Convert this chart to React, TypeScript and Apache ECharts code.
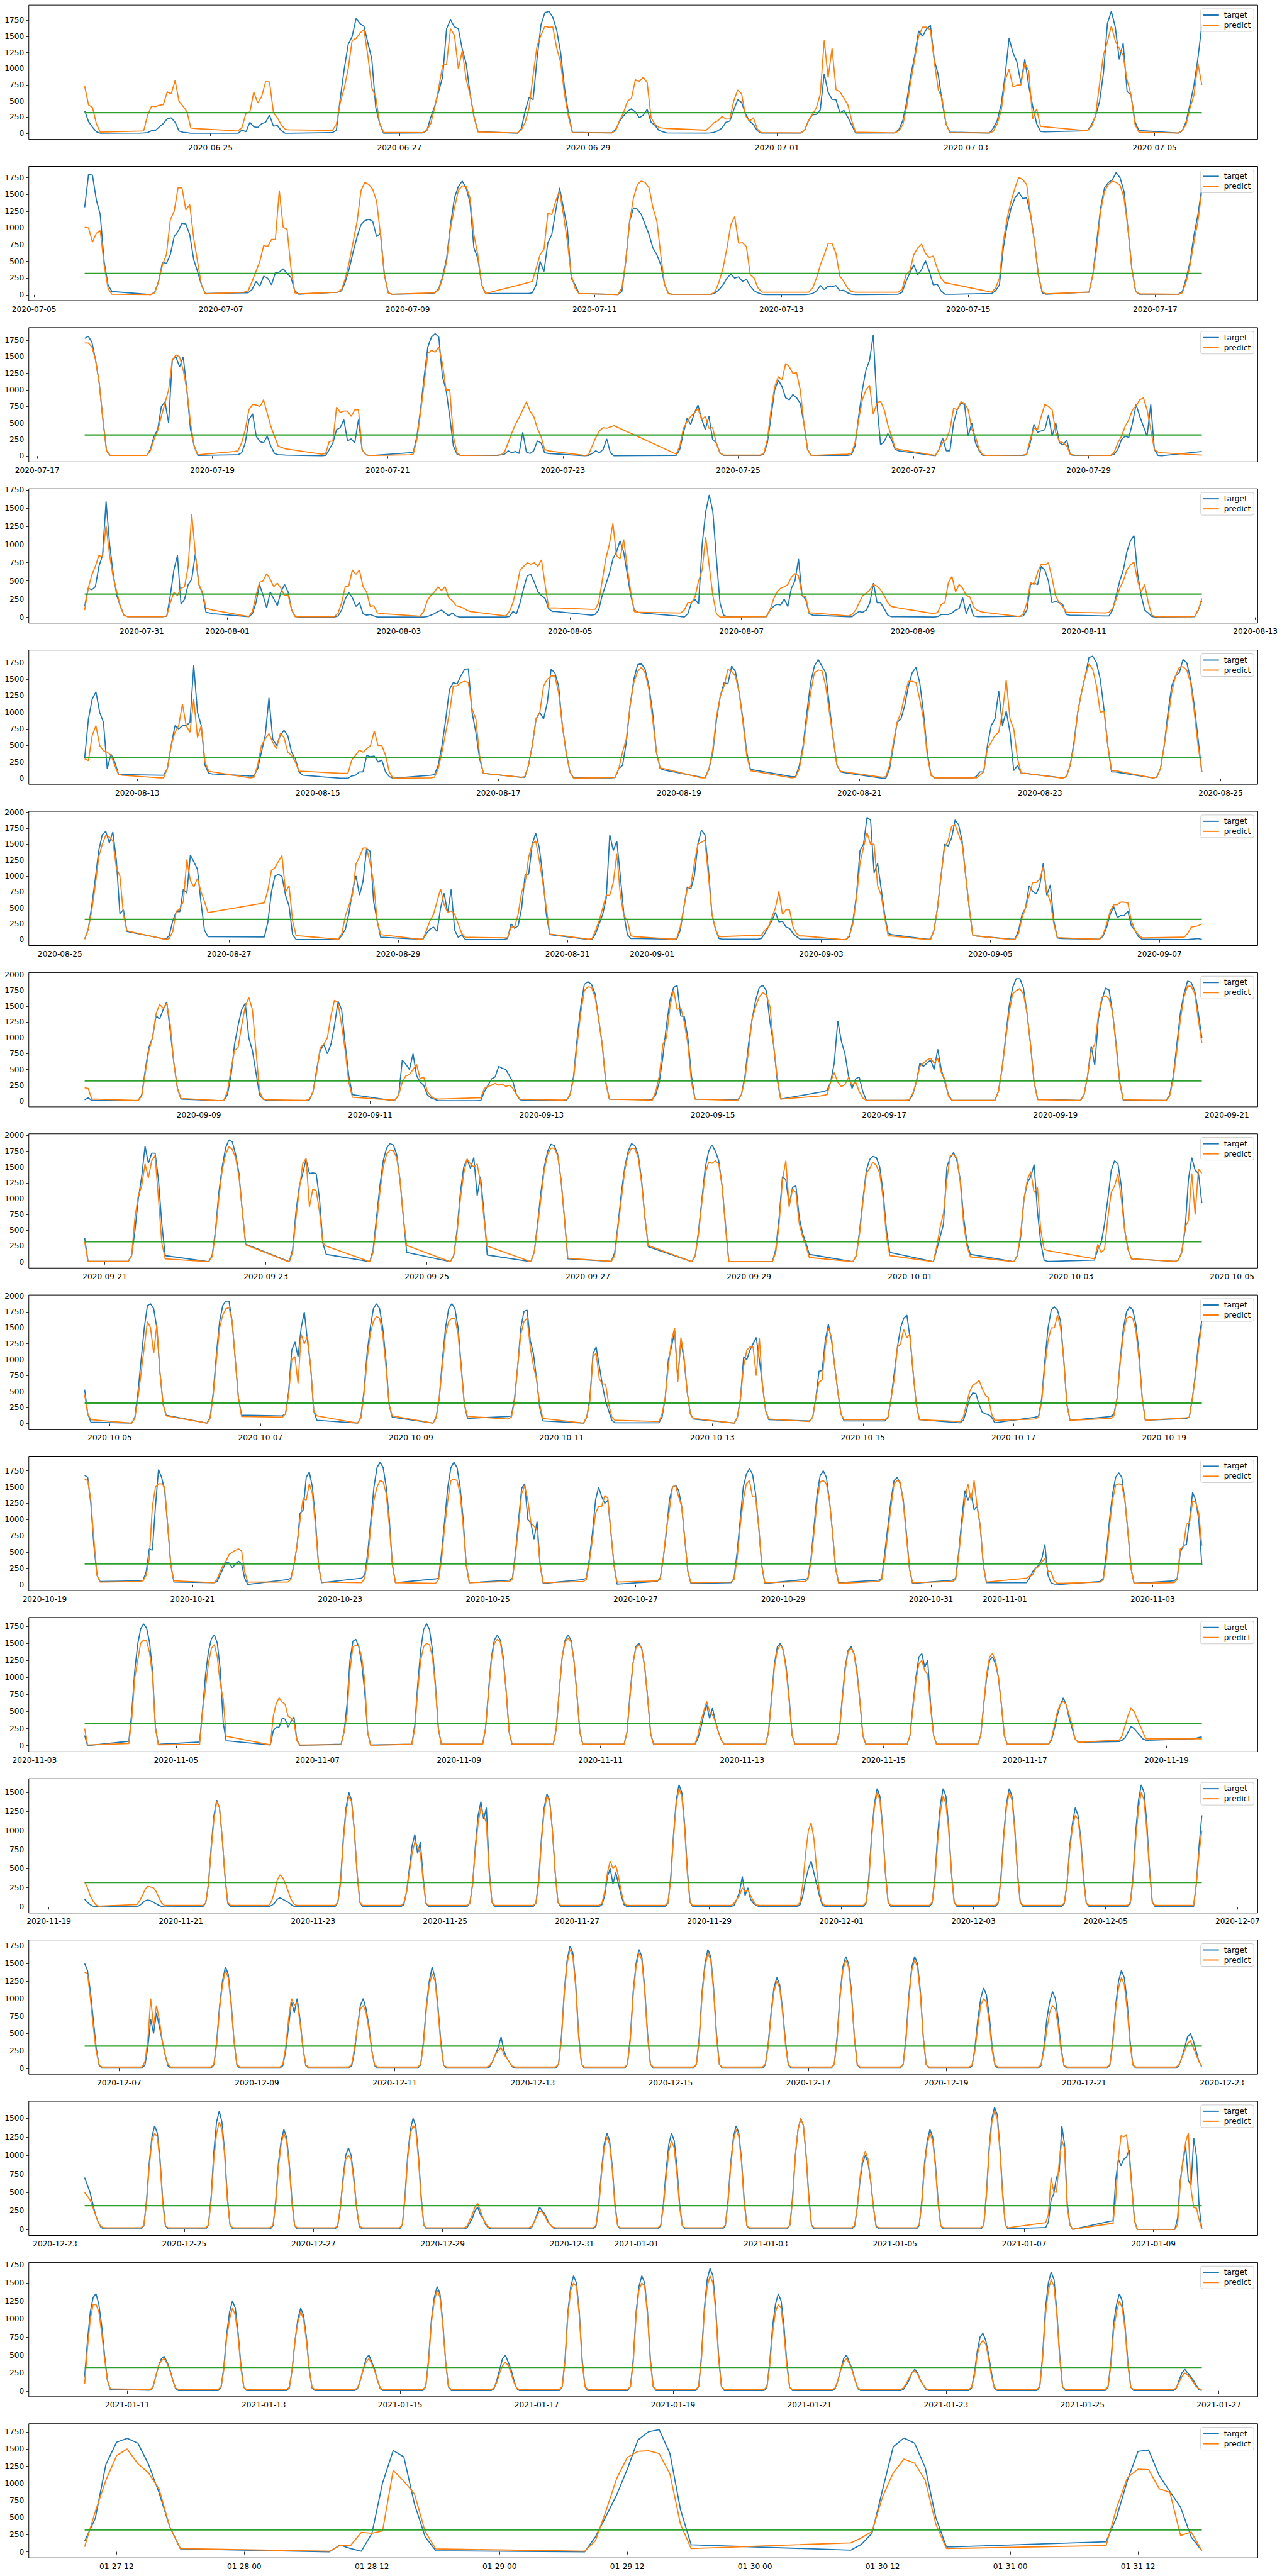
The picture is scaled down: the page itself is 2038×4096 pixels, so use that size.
import React, { useEffect, useRef } from "react";
import * as echarts from "echarts";

// ---------------- DATA ----------------
// Each day entry "YYYY-MM-DD H" gives the first hour; values follow hourly.
const THRESHOLD = 320;

const p1Days = ["2020-06-23 16","2020-06-24 6","2020-06-25 6","2020-06-26 6","2020-06-27 6","2020-06-28 6","2020-06-29 6","2020-06-30 6","2020-07-01 6","2020-07-02 6","2020-07-03 6","2020-07-04 6","2020-07-05 6"];
const p1Target = [
  [350,180,94,23,0],
  [3,5,10,40,45,100,150,225,240,170,35,15,10,0,0],
  [0,0,50,25,170,100,90,150,170,280,110,120,40,0,0],
  [10,10,50,550,1000,1380,1500,1780,1700,1660,1400,1150,400,150,0],
  [5,40,250,420,650,870,1620,1760,1650,1620,1300,1080,600,250,25],
  [0,70,350,560,520,1150,1680,1870,1890,1800,1600,1250,700,300,15],
  [5,60,190,270,340,380,330,240,280,370,170,122,45,23,5],
  [3,5,15,40,80,170,190,360,520,480,300,190,135,40,3],
  [3,45,194,285,293,364,919,635,526,520,313,356,250,128,3],
  [5,60,200,500,900,1200,1588,1503,1616,1673,1133,905,478,137,17],
  [3,80,200,450,900,1474,1246,1104,777,1147,734,421,150,28,23],
  [37,45,137,273,492,933,1702,1892,1645,1147,1397,649,592,179,43],
  [3,37,179,450,748,1161,1673],
];
const p1Predict = [
  [730,441,400,142,17],
  [35,37,279,421,413,435,444,643,612,817,492,421,336,80,74],
  [40,38,90,310,330,640,470,570,800,795,320,240,130,60,55],
  [45,45,140,480,700,1000,1440,1470,1550,1610,1200,710,560,150,15],
  [10,50,150,400,700,1050,1070,1620,1520,1000,1280,830,600,250,20],
  [5,50,170,400,900,1350,1520,1660,1640,1650,1320,1100,600,250,10],
  [5,40,200,320,500,540,830,800,870,785,236,142,88,80,75],
  [48,100,165,195,260,220,222,500,670,612,273,185,242,65,9],
  [5,45,194,293,393,606,1440,862,1318,677,643,544,444,194,17],
  [5,40,130,420,800,1150,1503,1645,1645,1602,1104,677,535,137,9],
  [5,30,150,350,820,990,714,748,748,1090,962,222,378,108,100],
  [45,45,108,279,763,1218,1417,1665,1431,1318,1204,820,598,137,17],
  [3,45,137,393,592,1090,748],
];
const p1Span = ["2020-06-23 16", "2020-07-05 12"];
const p1Ticks = ["2020-06-25","2020-06-27","2020-06-29","2020-07-01","2020-07-03","2020-07-05"];

const p2Days = ["2020-07-05 13","2020-07-06 6","2020-07-07 6","2020-07-08 6","2020-07-09 6","2020-07-10 6","2020-07-11 6","2020-07-12 6","2020-07-13 6","2020-07-14 6","2020-07-15 6","2020-07-16 6","2020-07-17 6"];
const p2Target = [
  [1310,1800,1790,1420,1200,500,150,50],
  [5,40,200,490,470,600,870,950,1070,1060,900,530,350,150,20],
  [30,30,80,200,130,280,250,150,330,340,390,320,260,60,10],
  [40,60,200,400,650,870,1050,1110,1130,1100,870,920,300,30,10],
  [20,30,100,280,550,1050,1450,1620,1700,1600,1380,700,550,150,20],
  [20,20,30,150,500,350,780,900,1250,1600,1300,1000,250,150,20],
  [5,50,500,1100,1300,1280,1200,1050,900,700,600,450,150,20,10],
  [10,30,80,150,250,310,250,270,200,230,130,60,30,10,5],
  [5,10,20,60,140,80,130,120,140,60,70,30,10,5,5],
  [10,40,200,330,450,300,380,510,350,150,160,60,10,10,10],
  [20,60,150,700,1050,1300,1450,1530,1440,1450,1200,800,300,30,10],
  [40,40,300,800,1300,1600,1680,1720,1830,1750,1550,1000,400,50,10],
  [10,50,250,500,900,1200,1600],
];
const p2Predict = [
  [1010,1000,790,920,960,450,100,10],
  [5,30,200,450,600,1120,1250,1600,1600,1270,1350,850,500,150,15],
  [40,60,200,350,500,740,720,830,830,1560,1010,980,400,30,15],
  [40,80,250,500,800,1100,1560,1680,1650,1580,1400,900,300,30,10],
  [30,30,80,250,500,1000,1300,1560,1630,1620,1450,900,600,150,20],
  [170,185,200,400,600,680,1220,1200,1400,1550,1200,800,300,100,20],
  [5,100,500,1100,1450,1650,1700,1680,1600,1300,1100,600,150,15,10],
  [10,50,200,400,700,1050,1170,770,780,720,300,250,100,40,40],
  [40,40,100,250,450,600,770,770,620,280,200,100,50,40,40],
  [40,80,300,360,600,700,760,620,560,580,400,250,180,170,160],
  [40,100,250,800,1150,1400,1600,1760,1720,1650,1200,800,300,50,15],
  [40,40,300,700,1250,1550,1650,1700,1680,1640,1450,1000,400,50,15],
  [10,30,200,450,800,1100,1550],
];
const p2Span = ["2020-07-05 13", "2020-07-17 12"];
const p2Ticks = ["2020-07-05","2020-07-07","2020-07-09","2020-07-11","2020-07-13","2020-07-15","2020-07-17"];

const p3Days = ["2020-07-17 13","2020-07-18 6","2020-07-19 6","2020-07-20 6","2020-07-21 6","2020-07-22 6","2020-07-23 6","2020-07-24 7","2020-07-25 6","2020-07-26 6","2020-07-27 6","2020-07-28 6","2020-07-29 6","2020-07-30 7"];
const p3Target = [
  [1780,1810,1720,1450,1100,550,80,10],
  [10,100,300,400,750,820,500,1450,1500,1350,1500,1000,400,150,10],
  [20,20,50,200,550,640,300,220,200,300,150,40,20,20,15],
  [5,10,100,200,400,430,550,230,260,200,550,100,20,10,10],
  [50,50,300,700,1200,1650,1800,1850,1800,1200,1000,600,150,30,10],
  [10,20,30,80,50,70,40,360,60,40,80,230,200,50,40],
  [5,10,40,80,50,100,260,50,5],
  [10,100,350,570,480,650,770,560,400,600,250,200,50,10],
  [10,30,200,600,1000,1150,1050,880,850,930,880,800,500,100,10],
  [10,20,150,600,1000,1300,1450,1830,800,170,220,340,250,100,80],
  [5,100,270,80,80,500,700,800,780,300,500,200,80,10,10],
  [10,20,200,480,360,380,400,620,300,500,200,170,240,20,10],
  [10,30,100,250,300,280,500,780,600,450,300,780,100,10,5],
  [70],
];
const p3Predict = [
  [1710,1710,1650,1450,1100,550,80,10],
  [10,80,250,380,600,800,1000,1450,1530,1500,1300,1000,500,150,20],
  [70,80,200,400,700,780,770,750,850,650,450,300,150,130,110],
  [30,40,220,230,740,660,680,680,600,700,700,100,20,10,10],
  [20,30,250,650,1100,1550,1600,1570,1650,1400,1000,1000,300,50,10],
  [15,20,60,200,350,480,580,700,820,680,600,420,300,100,80],
  [10,20,150,280,380,430,420,440,460],
  [30,150,420,520,600,650,720,550,600,420,430,200,50,15],
  [15,40,250,700,1050,1200,1150,1400,1350,1250,1260,1000,500,100,10],
  [30,40,200,550,850,1000,1070,630,800,830,700,470,300,120,100],
  [10,100,200,250,400,720,700,820,800,700,400,300,100,20,10],
  [15,30,250,420,400,600,780,750,700,350,220,200,150,30,15],
  [10,60,200,300,450,550,700,760,850,880,700,400,100,60,50],
  [15],
];
const p3Span = ["2020-07-17 13", "2020-07-30 7"];
const p3Ticks = ["2020-07-17","2020-07-19","2020-07-21","2020-07-23","2020-07-25","2020-07-27","2020-07-29"];

const p4Days = ["2020-07-30 8","2020-07-31 6","2020-08-01 6","2020-08-02 6","2020-08-03 6","2020-08-04 6","2020-08-05 6","2020-08-06 6","2020-08-07 6","2020-08-08 6","2020-08-09 6","2020-08-10 6","2020-08-11 6","2020-08-12 6"];
const p4Target = [
  [150,400,380,420,700,850,1590,1000,600,300,150,30,10],
  [10,15,300,650,850,180,250,450,520,870,450,330,70,60,50],
  [10,50,200,450,300,130,350,250,160,350,450,350,100,10,5],
  [5,20,100,250,340,270,150,200,50,30,40,20,5,5,5],
  [5,5,10,30,50,80,100,60,20,60,20,5,5,5,5],
  [5,10,80,50,200,400,570,590,480,350,300,260,120,80,80],
  [30,40,100,300,450,600,800,900,1050,900,600,300,100,70,60],
  [20,10,5,50,200,250,180,1000,1450,1680,1450,800,200,30,10],
  [10,10,100,150,180,170,250,150,400,500,800,300,250,50,30],
  [10,10,50,80,70,100,200,470,200,200,120,30,10,10,10],
  [5,10,40,40,40,60,100,120,270,50,180,20,10,10,10],
  [15,20,100,450,470,450,700,650,500,200,220,200,180,40,30],
  [20,20,100,300,500,650,900,1050,1120,600,300,100,60,10,5],
  [10,10,100,230],
];
const p4Predict = [
  [100,400,580,700,850,830,1260,850,550,350,150,30,10],
  [10,20,200,340,300,400,420,700,1420,880,450,350,130,110,100],
  [10,80,300,480,500,600,520,420,470,400,300,310,100,10,10],
  [10,60,200,420,430,650,590,650,420,350,150,160,60,55,50],
  [15,80,230,300,350,420,370,420,270,230,160,150,130,100,80],
  [20,80,200,400,650,700,750,730,750,700,790,450,130,130,130],
  [110,110,200,500,800,1000,1290,850,800,1070,700,350,80,70,70],
  [60,60,100,200,200,280,500,650,1100,700,300,50,5,5,5],
  [10,10,100,250,350,400,420,450,550,600,570,300,280,60,60],
  [20,40,100,200,300,330,380,450,430,380,300,200,150,140,130],
  [50,70,180,200,480,560,350,450,400,300,280,150,100,80,70],
  [10,50,200,480,450,620,730,720,750,550,300,200,150,70,70],
  [60,70,120,250,400,500,650,720,760,500,350,450,200,30,10],
  [10,15,100,260],
];
const p4Span = ["2020-07-30 8", "2020-08-12 9"];
const p4Ticks = ["2020-07-31","2020-08-01","2020-08-03","2020-08-05","2020-08-07","2020-08-09","2020-08-11","2020-08-13"];

const p5Days = ["2020-08-12 10","2020-08-13 6","2020-08-14 6","2020-08-15 6","2020-08-16 6","2020-08-17 6","2020-08-18 6","2020-08-19 6","2020-08-20 6","2020-08-21 6","2020-08-22 6","2020-08-23 6","2020-08-24 6"];
const p5Target = [
  [310,900,1200,1310,1000,850,150,370,250,70,60],
  [50,50,150,500,800,750,800,800,850,1710,1000,800,200,80,70],
  [40,40,150,400,650,1220,600,500,650,730,650,400,300,100,50],
  [5,5,5,40,50,100,100,350,330,340,250,280,100,30,5],
  [50,60,200,500,900,1350,1450,1430,1550,1650,1660,1000,700,300,80],
  [20,20,200,500,900,1000,900,1150,1650,1600,1400,800,400,100,10],
  [10,15,150,200,550,1100,1500,1720,1740,1650,1400,1000,400,150,130],
  [20,20,150,400,900,1250,1450,1430,1700,1620,1300,900,400,140,130],
  [30,30,200,500,1000,1450,1700,1800,1700,1600,1100,600,200,100,90],
  [5,5,150,500,850,900,1100,1400,1600,1680,1450,1000,400,50,10],
  [10,30,100,100,500,800,900,1320,800,1020,700,120,200,80,80],
  [10,30,200,550,1000,1300,1550,1830,1850,1750,1500,1050,500,100,100],
  [10,20,150,500,1000,1400,1550,1600,1800,1750,1500,1100,600,100],
];
const p5Predict = [
  [300,270,650,800,500,420,400,350,200,60,50],
  [10,10,160,500,700,800,1130,800,700,1200,620,800,250,110,100],
  [10,20,200,500,600,680,550,450,680,620,400,350,250,110,110],
  [80,80,80,280,350,430,400,450,500,720,500,500,350,100,5],
  [10,20,150,400,700,1000,1400,1400,1450,1470,1450,1050,900,350,80],
  [20,30,200,500,900,1000,1400,1500,1550,1550,1300,800,400,100,5],
  [15,15,150,400,600,1100,1450,1620,1680,1600,1350,900,400,160,150],
  [10,10,150,450,950,1250,1400,1650,1620,1550,1300,850,350,120,110],
  [10,20,150,450,900,1300,1600,1640,1630,1400,1000,600,200,110,100],
  [20,30,200,550,850,1000,1250,1470,1470,1450,1200,900,350,50,10],
  [10,10,50,100,450,550,650,700,1000,1490,900,750,300,80,80],
  [5,30,200,500,1000,1300,1550,1730,1650,1400,1000,1020,500,120,120],
  [10,20,150,500,900,1300,1550,1680,1690,1640,1450,1000,500,100],
];
const p5Span = ["2020-08-12 10", "2020-08-24 19"];
const p5Ticks = ["2020-08-13","2020-08-15","2020-08-17","2020-08-19","2020-08-21","2020-08-23","2020-08-25"];

const p6Days = ["2020-08-25 7","2020-08-26 6","2020-08-27 10","2020-08-28 7","2020-08-29 6","2020-08-30 6","2020-08-31 6","2020-09-01 6","2020-09-02 6","2020-09-03 6","2020-09-04 6","2020-09-05 6","2020-09-06 6","2020-09-07 6"];
const p6Target = [
  [10,160,530,950,1400,1650,1700,1520,1690,1250,410,470,130],
  [10,65,300,440,440,790,735,1330,1220,1110,590,150,50],
  [45,280,750,1000,1030,990,700,530,80,5],
  [5,70,170,420,770,1000,700,920,1430,1390,600,300,40],
  [10,10,100,170,200,130,500,730,420,790,150,40,80,5],
  [5,20,250,180,220,500,1030,1030,1500,1670,1450,1000,400,80],
  [5,10,100,250,400,650,1650,1400,1550,1000,400,80,20,20],
  [10,10,150,500,830,800,1000,1500,1720,1650,1100,400,170,20,10],
  [10,20,100,200,300,430,280,290,200,180,100,50,10,10],
  [5,5,50,300,700,1400,1500,1920,1880,1050,1200,800,400,100,80],
  [10,10,150,500,1000,1500,1470,1600,1880,1800,1550,1000,500,70,60],
  [10,10,150,400,500,850,760,720,850,1200,700,860,300,30,20],
  [10,10,60,200,400,520,350,380,380,450,220,150,50,10,10],
  [5,5,5,10,15,20,5],
];
const p6Predict = [
  [10,160,450,850,1300,1500,1640,1610,1550,1130,1000,400,140],
  [5,20,130,450,480,600,1260,930,830,960,760,600,427],
  [580,780,1090,1130,1230,1320,750,850,300,65],
  [10,100,380,540,700,1190,1300,1440,1440,1200,900,300,80],
  [10,10,150,300,400,600,800,550,430,450,400,250,100,40],
  [30,30,200,200,400,750,900,1300,1500,1550,1250,900,500,90],
  [10,20,150,300,500,700,700,900,1350,700,380,300,60,50],
  [10,20,200,500,800,850,1200,1500,1530,1560,1000,400,160,50,50],
  [70,70,150,200,350,500,760,400,470,470,200,100,60,60],
  [5,5,70,250,650,1200,1450,1680,1500,1500,850,700,350,60,60],
  [5,5,150,500,1000,1450,1550,1780,1800,1650,1500,1000,500,70,60],
  [5,10,100,350,500,700,900,900,950,1140,750,600,250,40,30],
  [10,10,80,250,450,550,550,590,590,580,300,150,80,30,30],
  [40,40,100,200,210,220,250],
];
const p6Span = ["2020-08-25 7", "2020-09-07 12"];
const p6Ticks = ["2020-08-25","2020-08-27","2020-08-29","2020-08-31","2020-09-01","2020-09-03","2020-09-05","2020-09-07"];

const p7Days = ["2020-09-07 16","2020-09-08 6","2020-09-09 6","2020-09-10 6","2020-09-11 6","2020-09-12 6","2020-09-13 6","2020-09-14 6","2020-09-15 6","2020-09-16 6","2020-09-17 6","2020-09-18 6","2020-09-19 6","2020-09-20 6"];
const p7Target = [
  [20,50,10,10],
  [5,10,100,500,850,1000,1350,1300,1450,1570,1100,600,200,30],
  [5,10,100,400,900,1200,1450,1550,1000,800,450,100,30,10],
  [5,20,150,500,800,900,750,900,1200,1580,1450,900,400,100],
  [10,20,100,650,580,500,750,400,300,250,100,50,30,5],
  [5,10,150,250,350,380,550,520,500,400,300,100,20,10],
  [5,10,100,400,1000,1500,1850,1890,1850,1700,1300,900,300,30],
  [20,20,100,300,700,1200,1600,1800,1830,1350,1340,1000,400,30],
  [20,20,100,400,900,1300,1600,1800,1830,1750,1250,900,350,30],
  [140,150,170,300,600,1270,950,750,400,200,350,380,150,10],
  [10,10,100,300,600,550,600,650,500,820,500,300,100,10],
  [10,10,150,500,1000,1500,1800,1940,1940,1800,1400,900,300,30],
  [10,10,100,400,870,570,1300,1600,1790,1760,1400,900,300,10],
  [10,10,100,400,900,1400,1700,1900,1880,1750,1400,1000],
];
const p7Predict = [
  [210,200,30,30],
  [10,10,80,450,800,1000,1380,1530,1470,1550,1200,600,200,40],
  [5,10,150,500,800,850,1200,1500,1640,1450,800,150,30,20],
  [10,30,150,450,850,900,1000,1350,1600,1550,1200,800,300,60],
  [15,20,100,300,400,420,500,580,350,380,150,80,40,30],
  [50,50,200,230,250,280,250,270,230,250,200,100,30,25],
  [15,20,100,350,900,1400,1750,1810,1800,1650,1300,900,300,30],
  [15,10,150,400,900,1000,1500,1760,1450,1480,1250,900,300,30],
  [10,15,100,350,800,1300,1500,1650,1720,1680,1500,900,400,30],
  [80,90,100,300,450,300,230,260,370,250,300,150,50,10],
  [10,20,120,300,550,600,650,680,600,680,450,350,80,10],
  [10,10,150,500,950,1400,1700,1750,1780,1700,1400,900,300,20],
  [10,10,100,400,800,900,1350,1640,1670,1620,1400,850,300,20],
  [10,10,80,350,800,1300,1650,1820,1820,1700,1300,920],
];
const p7Span = ["2020-09-07 16", "2020-09-20 17"];
const p7Ticks = ["2020-09-09","2020-09-11","2020-09-13","2020-09-15","2020-09-17","2020-09-19","2020-09-21"];

const p8Days = ["2020-09-20 18","2020-09-21 7","2020-09-22 7","2020-09-23 7","2020-09-24 7","2020-09-25 7","2020-09-26 7","2020-09-27 7","2020-09-28 7","2020-09-29 7","2020-09-30 7","2020-10-01 7","2020-10-02 7","2020-10-03 7","2020-10-04 7"];
const p8Target = [
  [380,10],
  [10,100,500,1000,1350,1830,1560,1720,1720,1300,600,100],
  [5,100,500,1100,1500,1800,1930,1900,1700,1400,800,280],
  [5,200,800,1200,1400,1620,1400,1410,1400,1000,300,120],
  [5,200,700,1200,1600,1800,1870,1850,1700,1300,700,150],
  [5,100,500,1100,1500,1620,1480,1650,1050,1350,800,110],
  [5,150,600,1100,1500,1750,1860,1840,1700,1300,700,50],
  [10,150,600,1100,1500,1750,1870,1840,1700,1300,700,240],
  [5,100,500,1000,1500,1750,1850,1750,1600,1200,600,10],
  [5,200,700,1350,1300,900,1180,1200,700,450,300,120],
  [5,100,500,1000,1450,1620,1670,1650,1500,1100,500,150],
  [5,200,400,600,1500,1650,1730,1600,1300,700,300,120],
  [5,100,400,1000,1250,1350,1540,800,300,30,10,10],
  [30,200,300,600,1000,1450,1600,1550,1200,500,200,50],
  [10,30,150,500,1300,1650,1450,1400,930],
];
const p8Predict = [
  [320,10],
  [10,100,700,1050,1200,1550,1330,1600,1680,1000,300,50],
  [5,80,450,1000,1450,1700,1820,1780,1650,1350,800,270],
  [0,150,700,1150,1550,1640,870,1150,1130,800,300,250],
  [5,150,600,1100,1500,1700,1770,1760,1650,1300,700,260],
  [5,100,450,1000,1400,1630,1550,1500,1550,1250,700,250],
  [5,150,550,1000,1450,1700,1800,1800,1680,1300,700,60],
  [10,100,550,1000,1450,1700,1800,1790,1650,1250,700,260],
  [5,100,450,950,1400,1580,1560,1600,1550,1200,550,10],
  [5,150,600,1300,1600,870,1150,1100,600,400,250,70],
  [5,100,450,950,1400,1480,1580,1520,1400,1000,400,100],
  [5,250,550,770,1300,1680,1700,1650,1250,600,250,80],
  [5,100,450,1000,1300,1430,1100,1180,500,200,180,170],
  [50,280,150,200,700,1100,1200,1390,1000,500,200,50],
  [10,30,150,550,650,1400,750,1470,1400],
];
const p8Span = ["2020-09-20 18", "2020-10-04 15"];
const p8Ticks = ["2020-09-21","2020-09-23","2020-09-25","2020-09-27","2020-09-29","2020-10-01","2020-10-03","2020-10-05"];

const p9Days = ["2020-10-04 16","2020-10-05 7","2020-10-06 7","2020-10-07 7","2020-10-08 7","2020-10-09 7","2020-10-10 7","2020-10-11 7","2020-10-12 7","2020-10-13 7","2020-10-14 7","2020-10-15 7","2020-10-16 7","2020-10-17 7","2020-10-18 7","2020-10-19 7"];
const p9Target = [
  [530,150,20],
  [5,100,500,1000,1500,1850,1880,1800,1500,800,300,130],
  [5,100,500,1100,1600,1850,1920,1920,1600,1000,400,130],
  [120,150,500,1150,1280,1050,1500,1750,1300,900,200,50],
  [5,100,500,1100,1500,1800,1880,1800,1500,1000,300,100],
  [5,100,400,1000,1500,1800,1880,1800,1500,900,300,80],
  [110,120,400,900,1500,1760,1780,1300,1100,700,250,40],
  [5,100,400,1100,1200,900,600,350,200,50,10,10],
  [10,100,400,1000,1200,1450,700,1300,1000,500,150,70],
  [5,100,400,1050,1000,1150,1250,1350,1000,600,200,60],
  [40,100,400,820,830,1300,1560,1300,900,500,150,40],
  [40,100,400,800,1200,1500,1650,1700,1350,800,300,60],
  [10,50,200,400,480,470,300,180,150,140,100,10],
  [100,120,400,1000,1500,1780,1830,1780,1600,1000,300,50],
  [110,150,400,1000,1500,1750,1830,1780,1550,1100,400,50],
  [80,100,400,800,1300,1620],
];
const p9Predict = [
  [450,150,60],
  [5,80,400,800,1200,1600,1500,1100,1550,800,300,120],
  [5,80,450,1000,1500,1700,1800,1820,1600,1000,400,110],
  [100,150,450,1000,1050,630,1400,1250,1370,900,200,120],
  [5,80,450,1000,1400,1600,1680,1650,1400,900,300,120],
  [5,80,400,900,1400,1600,1650,1650,1400,850,300,110],
  [70,100,350,900,1400,1600,1650,1200,900,700,300,80],
  [5,100,350,1050,1100,700,620,620,300,100,50,50],
  [30,150,400,900,1300,1500,650,1350,1050,500,150,80],
  [5,100,400,900,1150,1200,1200,750,1340,600,200,70],
  [30,100,400,650,680,1200,1500,1350,900,500,150,60],
  [60,100,400,700,1200,1250,1480,1350,1400,800,300,60],
  [30,100,300,500,600,630,680,550,450,400,150,50],
  [70,100,350,900,1300,1500,1500,1700,1500,1000,300,50],
  [80,120,400,950,1400,1650,1680,1650,1450,1000,400,50],
  [90,100,400,750,1200,1550],
];
const p9Span = ["2020-10-04 16", "2020-10-19 12"];
const p9Ticks = ["2020-10-05","2020-10-07","2020-10-09","2020-10-11","2020-10-13","2020-10-15","2020-10-17","2020-10-19"];

const p10Days = ["2020-10-19 13","2020-10-20 7","2020-10-21 7","2020-10-22 7","2020-10-23 7","2020-10-24 7","2020-10-25 7","2020-10-26 7","2020-10-27 7","2020-10-28 7","2020-10-29 7","2020-10-30 7","2020-10-31 7","2020-11-01 7","2020-11-02 7","2020-11-03 7"];
const p10Target = [
  [1680,1650,1250,600,150,50],
  [60,70,200,550,530,1200,1770,1650,1450,900,300,40],
  [30,50,150,250,350,330,260,320,360,320,100,5],
  [80,100,300,600,1100,1150,1650,1730,1500,1000,300,30],
  [100,150,500,1000,1500,1800,1880,1800,1500,1000,300,30],
  [90,100,500,1000,1500,1800,1880,1800,1500,1000,300,30],
  [70,100,500,1000,1480,1550,1000,950,700,970,300,20],
  [80,100,400,800,1300,1500,1350,1250,1300,800,300,10],
  [50,100,400,800,1300,1500,1530,1450,1200,700,200,20],
  [30,100,500,1000,1500,1700,1780,1700,1400,900,300,20],
  [80,100,400,900,1400,1680,1750,1650,1300,800,250,30],
  [70,100,500,900,1300,1600,1650,1550,1300,800,250,20],
  [70,100,500,1000,1450,1300,1400,1150,1200,900,300,30],
  [30,100,200,250,300,400,620,150,30,10,10,5],
  [50,100,500,1000,1400,1650,1720,1650,1300,800,250,20],
  [60,100,500,600,620,1000,1420,1300,1000,300],
];
const p10Predict = [
  [1620,1600,1300,700,150,40],
  [50,60,150,400,1200,1500,1550,1550,1500,900,300,60],
  [30,80,200,300,370,470,500,530,550,520,200,40],
  [40,80,300,600,1000,1330,1300,1550,1400,900,300,40],
  [30,100,400,900,1300,1500,1600,1580,1400,900,300,30],
  [20,80,400,900,1300,1600,1620,1600,1400,900,300,30],
  [50,80,450,900,1400,1520,1300,950,900,850,300,30],
  [50,80,350,700,1100,1200,1200,1370,1330,800,300,40],
  [60,80,400,850,1150,1500,1520,1350,1200,700,200,30],
  [40,80,400,900,1300,1550,1600,1350,1350,900,300,30],
  [50,80,350,800,1300,1580,1600,1550,1300,800,250,20],
  [50,80,400,800,1200,1550,1600,1580,1250,750,250,30],
  [50,80,450,900,1300,1550,1300,1600,1200,900,300,40],
  [100,130,150,250,280,350,400,210,200,60,20,20],
  [40,80,400,900,1300,1530,1550,1530,1300,800,250,20],
  [30,80,550,580,930,950,1280,1270,1100,600],
];
const p10Span = ["2020-10-19 13", "2020-11-03 16"];
const p10Ticks = ["2020-10-19","2020-10-21","2020-10-23","2020-10-25","2020-10-27","2020-10-29","2020-10-31","2020-11-01","2020-11-03"];

const p11Days = ["2020-11-03 17","2020-11-04 8","2020-11-05 8","2020-11-06 8","2020-11-07 8","2020-11-08 8","2020-11-09 8","2020-11-10 8","2020-11-11 8","2020-11-12 8","2020-11-13 8","2020-11-14 8","2020-11-15 8","2020-11-16 8","2020-11-17 8","2020-11-18 8","2020-11-19 8"];
const p11Target = [
  [150,0],
  [64,500,1100,1490,1712,1785,1726,1517,1116,273,19],
  [53,527,1035,1383,1565,1624,1504,1116,340,72],
  [10,219,268,273,399,388,273,353,420,86,5],
  [20,200,600,1250,1530,1560,1450,1200,800,200,10],
  [20,300,900,1400,1700,1790,1700,1400,900,250,20],
  [20,250,800,1300,1550,1620,1550,1300,800,200,20],
  [20,250,800,1300,1550,1620,1550,1250,750,200,20],
  [20,200,750,1200,1450,1500,1420,1150,700,180,20],
  [20,100,250,450,600,400,550,350,200,80,20],
  [20,200,700,1200,1450,1500,1400,1150,700,150,20],
  [20,200,700,1150,1400,1450,1350,1100,650,150,20],
  [20,150,600,1000,1300,1350,1150,1250,600,150,20],
  [20,150,600,1000,1250,1300,1200,1000,600,150,20],
  [20,80,250,450,600,700,600,400,250,100,50],
  [60,80,120,200,280,250,200,150,100,80,80],
  [100,100,110,120,130],
];
const p11Predict = [
  [250,10],
  [30,400,1000,1250,1504,1549,1536,1370,1035,260,13],
  [19,500,850,1210,1424,1482,1303,902,688,139],
  [13,433,620,701,640,607,433,406,350,72,10],
  [15,200,450,1100,1450,1470,1460,1300,950,200,5],
  [20,250,800,1250,1450,1500,1480,1300,850,250,20],
  [20,250,750,1250,1500,1560,1520,1250,800,200,20],
  [20,250,800,1300,1520,1580,1520,1250,750,200,20],
  [20,200,700,1200,1430,1480,1420,1150,700,180,20],
  [20,150,350,500,650,500,450,350,200,80,20],
  [20,200,650,1150,1400,1480,1400,1100,650,150,20],
  [20,200,650,1100,1380,1430,1350,1050,650,150,20],
  [20,150,550,950,1200,1250,1100,1050,550,150,20],
  [20,150,600,1050,1300,1350,1250,1000,600,150,20],
  [20,100,300,500,600,650,600,450,300,100,50],
  [80,150,300,450,550,500,400,300,200,100,100],
  [100,100,100,100,100],
];
const p11Span = ["2020-11-03 17", "2020-11-19 12"];
const p11Ticks = ["2020-11-03","2020-11-05","2020-11-07","2020-11-09","2020-11-11","2020-11-13","2020-11-15","2020-11-17","2020-11-19"];

const p12Days = ["2020-11-19 13","2020-11-20 8","2020-11-21 8","2020-11-22 8","2020-11-23 8","2020-11-24 8","2020-11-25 8","2020-11-26 8","2020-11-27 8","2020-11-28 8","2020-11-29 8","2020-11-30 8","2020-12-01 8","2020-12-02 8","2020-12-03 8","2020-12-04 8","2020-12-05 8","2020-12-06 8"];
const p12Target = [
  [100,60,30,10,5,0],
  [5,20,50,80,90,80,60,40,20,5,0],
  [5,50,300,800,1200,1400,1300,900,400,50,5],
  [5,20,50,100,120,100,80,60,30,10,5],
  [5,50,350,900,1300,1500,1400,1000,450,60,5],
  [5,30,200,500,800,950,700,850,400,50,5],
  [5,50,300,800,1200,1380,1150,1300,500,60,5],
  [5,50,350,900,1300,1480,1400,1000,450,60,5],
  [5,30,150,400,500,300,450,300,150,30,5],
  [5,50,400,950,1400,1600,1500,1100,500,60,5],
  [5,20,100,200,400,150,250,100,50,20,5],
  [5,30,150,350,500,600,450,300,150,30,5],
  [5,50,400,950,1350,1550,1450,1050,450,60,5],
  [5,50,400,950,1350,1550,1450,1050,450,60,5],
  [5,50,400,950,1350,1550,1450,1050,450,60,5],
  [5,40,300,800,1100,1300,1200,900,400,50,5],
  [5,50,400,1000,1400,1600,1500,1100,500,60,5],
  [5,300,800,1200],
];
const p12Predict = [
  [330,250,150,80,30,10],
  [30,80,150,230,270,260,250,200,120,50,20],
  [20,50,300,750,1150,1380,1300,900,400,60,20],
  [20,80,200,350,420,380,300,200,100,40,20],
  [20,60,300,850,1250,1450,1380,1000,450,60,20],
  [20,50,200,450,700,850,800,700,350,50,20],
  [20,50,300,750,1100,1300,1200,1100,450,60,20],
  [20,50,300,850,1250,1450,1380,1000,450,60,20],
  [20,50,200,450,600,500,550,400,200,50,20],
  [20,60,350,900,1350,1550,1450,1050,450,60,20],
  [20,50,100,150,250,200,220,150,80,30,20],
  [20,60,300,700,1000,1100,900,500,200,50,20],
  [20,60,350,900,1300,1500,1400,1000,450,60,20],
  [20,60,350,850,1250,1450,1350,1000,450,60,20],
  [20,60,350,900,1300,1500,1400,1000,450,60,20],
  [20,50,300,750,1050,1200,1150,850,350,50,20],
  [20,60,350,900,1300,1500,1400,1000,450,60,20],
  [20,300,700,1000],
];
const p12Span = ["2020-11-19 13", "2020-12-06 11"];
const p12Ticks = ["2020-11-19","2020-11-21","2020-11-23","2020-11-25","2020-11-27","2020-11-29","2020-12-01","2020-12-03","2020-12-05","2020-12-07"];

const p13Days = ["2020-12-06 12","2020-12-07 8","2020-12-08 8","2020-12-09 8","2020-12-10 8","2020-12-11 8","2020-12-12 8","2020-12-13 8","2020-12-14 8","2020-12-15 8","2020-12-16 8","2020-12-17 8","2020-12-18 8","2020-12-19 8","2020-12-20 8","2020-12-21 8","2020-12-22 8"];
const p13Target = [
  [1500,1400,1100,700,300,50,5],
  [5,50,300,700,500,800,600,400,200,40,5],
  [5,50,400,900,1250,1450,1350,950,400,50,5],
  [5,40,250,600,950,800,1000,700,300,40,5],
  [5,40,250,600,900,1000,850,600,250,40,5],
  [5,50,400,900,1250,1450,1300,900,400,50,5],
  [5,20,100,200,300,450,250,150,80,20,5],
  [5,60,450,1100,1550,1750,1650,1200,500,60,5],
  [5,60,450,1100,1500,1700,1600,1150,500,60,5],
  [5,60,450,1100,1500,1700,1600,1150,500,60,5],
  [5,50,350,800,1150,1300,1200,850,400,50,5],
  [5,60,450,1050,1450,1600,1500,1100,450,60,5],
  [5,60,450,1050,1450,1600,1500,1100,450,60,5],
  [5,40,300,700,1000,1150,1050,750,300,40,5],
  [5,40,300,700,950,1100,1000,700,300,40,5],
  [5,50,400,900,1250,1400,1300,950,400,50,5],
  [5,40,150,300,450,500,400,250,100,20],
];
const p13Predict = [
  [1380,1350,1000,600,250,60,20],
  [20,100,400,1000,600,900,700,400,200,60,20],
  [20,60,350,850,1200,1400,1300,900,400,60,20],
  [20,60,300,700,1000,900,950,650,300,50,20],
  [20,60,300,600,850,900,800,550,250,50,20],
  [20,60,350,850,1200,1350,1250,850,350,50,20],
  [20,40,100,200,250,300,200,150,80,30,20],
  [20,60,400,1050,1500,1700,1600,1150,450,60,20],
  [20,60,400,1050,1450,1650,1550,1100,450,60,20],
  [20,60,400,1050,1450,1650,1550,1100,450,60,20],
  [20,60,300,750,1100,1250,1150,800,350,50,20],
  [20,60,400,1000,1400,1550,1450,1050,450,60,20],
  [20,60,400,1000,1400,1550,1450,1050,450,60,20],
  [20,50,250,600,900,1000,950,650,250,50,20],
  [20,50,250,550,800,900,850,600,250,50,20],
  [20,60,350,850,1150,1300,1200,850,350,50,20],
  [20,50,150,250,350,400,300,200,100,30],
];
const p13Span = ["2020-12-06 12", "2020-12-22 17"];
const p13Ticks = ["2020-12-07","2020-12-09","2020-12-11","2020-12-13","2020-12-15","2020-12-17","2020-12-19","2020-12-21","2020-12-23"];

const p14Days = ["2020-12-23 11","2020-12-24 8","2020-12-25 8","2020-12-26 8","2020-12-27 8","2020-12-28 8","2020-12-29 8","2020-12-30 8","2020-12-31 8","2021-01-01 8","2021-01-02 8","2021-01-03 8","2021-01-04 8","2021-01-05 8","2021-01-06 8","2021-01-07 8","2021-01-08 8","2021-01-09 8"];
const p14Target = [
  [700,600,500,350,200,100,30,5],
  [5,50,400,900,1250,1400,1300,950,400,50,5],
  [5,60,450,1050,1450,1600,1450,1050,450,60,5],
  [5,50,400,900,1200,1350,1250,900,400,50,5],
  [5,40,300,700,1000,1100,1000,700,300,40,5],
  [5,60,450,1000,1350,1500,1400,1000,450,60,5],
  [5,20,80,150,250,300,200,150,60,20,5],
  [5,20,100,200,300,250,200,120,60,20,5],
  [5,50,350,800,1150,1300,1200,850,350,50,5],
  [5,50,350,800,1150,1300,1200,850,350,50,5],
  [5,50,400,900,1250,1400,1300,950,400,50,5],
  [5,60,450,1000,1350,1500,1400,1000,450,60,5],
  [5,40,300,650,900,1000,900,650,300,40,5],
  [5,50,400,900,1200,1350,1250,900,400,50,5],
  [5,60,500,1100,1500,1650,1550,1100,500,60,5],
  [25,100,400,480,700,780,1400,1150,350,60,0],
  [110,115,667,949,859,949,974,1077,564,115,0],
  [0,154,667,923,1115,654,603,1231,987,308,0],
];
const p14Predict = [
  [500,450,400,300,200,100,40,20],
  [20,60,350,850,1200,1300,1250,900,350,50,20],
  [20,60,400,950,1300,1450,1350,1000,400,60,20],
  [20,60,350,850,1150,1300,1200,850,350,50,20],
  [20,50,300,650,950,1000,950,650,300,50,20],
  [20,60,400,950,1300,1400,1350,950,400,60,20],
  [20,40,120,200,300,350,250,150,80,30,20],
  [20,40,100,180,250,230,180,100,60,30,20],
  [20,60,300,750,1100,1250,1150,800,300,50,20],
  [20,60,300,700,1050,1200,1100,750,300,50,20],
  [20,60,350,850,1200,1350,1250,900,350,50,20],
  [20,60,400,1000,1350,1500,1400,1000,400,60,20],
  [20,50,300,700,950,1050,950,650,300,50,20],
  [20,60,350,850,1150,1300,1200,850,350,50,20],
  [20,60,450,1050,1450,1600,1500,1050,450,60,20],
  [90,200,700,510,500,900,1200,1100,300,60,0],
  [77,77,410,949,1269,1251,1282,974,564,103,0],
  [0,64,615,949,1179,1303,538,295,287,128,0],
];
const p14Span = ["2020-12-23 11", "2021-01-09 18"];
const p14Ticks = ["2020-12-23","2020-12-25","2020-12-27","2020-12-29","2020-12-31","2021-01-01","2021-01-03","2021-01-05","2021-01-07","2021-01-09"];

const p15Days = ["2021-01-10 9","2021-01-11 8","2021-01-12 8","2021-01-13 8","2021-01-14 8","2021-01-15 8","2021-01-16 8","2021-01-17 8","2021-01-18 8","2021-01-19 8","2021-01-20 8","2021-01-21 8","2021-01-22 8","2021-01-23 8","2021-01-24 8","2021-01-25 8","2021-01-26 8"];
const p15Target = [
  [200,700,1100,1300,1350,1200,900,500,150,20],
  [10,50,200,350,450,480,400,300,150,30,5],
  [5,50,350,800,1100,1250,1150,800,350,50,5],
  [5,40,300,700,1000,1150,1050,750,300,40,5],
  [5,30,150,300,450,500,400,300,150,30,5],
  [5,60,450,1000,1300,1450,1350,950,400,50,5],
  [5,30,150,300,450,500,400,300,150,30,5],
  [5,60,450,1100,1450,1600,1500,1100,450,60,5],
  [5,60,450,1100,1450,1600,1500,1100,450,60,5],
  [5,60,500,1150,1550,1700,1600,1150,500,60,5],
  [5,50,400,900,1200,1350,1250,900,400,50,5],
  [5,30,150,300,450,500,400,300,150,30,5],
  [5,20,80,150,250,300,250,150,80,20,5],
  [5,40,250,550,750,800,700,500,250,40,5],
  [5,60,500,1150,1500,1650,1550,1100,500,60,5],
  [5,50,400,950,1200,1350,1250,900,400,50,5],
  [5,30,150,250,300,250,200,150,80,20,5],
];
const p15Predict = [
  [100,600,1000,1200,1200,1100,800,450,150,30],
  [20,50,200,350,420,450,380,280,150,40,20],
  [20,60,300,750,1000,1150,1050,750,300,50,20],
  [20,50,300,700,950,1100,1000,700,300,50,20],
  [20,40,150,300,400,450,380,280,150,40,20],
  [20,60,400,950,1250,1400,1300,900,400,60,20],
  [20,40,120,250,350,400,350,250,120,40,20],
  [20,60,400,1050,1400,1500,1450,1050,400,60,20],
  [20,60,400,1050,1400,1500,1450,1050,400,60,20],
  [20,60,450,1100,1450,1600,1500,1100,450,60,20],
  [20,60,350,800,1100,1200,1150,800,350,50,20],
  [20,40,150,300,400,450,380,280,150,40,20],
  [20,40,100,180,250,280,230,150,80,30,20],
  [20,50,200,500,650,700,650,450,200,50,20],
  [20,60,450,1050,1400,1550,1450,1050,450,60,20],
  [20,60,350,850,1100,1250,1150,850,350,50,20],
  [20,40,120,200,250,220,180,120,60,30,20],
];
const p15Span = ["2021-01-10 9", "2021-01-26 18"];
const p15Ticks = ["2021-01-11","2021-01-13","2021-01-15","2021-01-17","2021-01-19","2021-01-21","2021-01-23","2021-01-25","2021-01-27"];

const p16Days = ["2021-01-27 9","2021-01-28 8","2021-01-29 8","2021-01-30 9","2021-01-31 9"];
const p16Target = [
  [155,490,1281,1603,1659,1589,1281,860,365,43],
  [0,99,48,8,271,1008,1482,1388,700,222,16],
  [0,217,520,833,1209,1635,1756,1785,1442,619,102],
  [24,110,271,914,1536,1664,1589,1233,499,70],
  [147,512,1040,1469,1488,1115,882,654,217,16],
];
const p16Predict = [
  [75,590,1048,1407,1503,1289,1155,919,365,48],
  [8,94,94,284,271,306,1193,1035,847,298,43],
  [8,160,600,1070,1380,1469,1477,1437,1142,405,48],
  [131,204,298,808,1155,1356,1297,1048,405,48],
  [91,646,1083,1209,1201,922,868,239,290,16],
];
const p16Span = ["2021-01-27 9", "2021-01-31 18"];
const p16Ticks = ["2021-01-27 12","2021-01-28 0","2021-01-28 12","2021-01-29 0","2021-01-29 12","2021-01-30 0","2021-01-30 12","2021-01-31 0","2021-01-31 12"];
const p16TickLabels = ["01-27 12","01-28 00","01-28 12","01-29 00","01-29 12","01-30 00","01-30 12","01-31 00","01-31 12"];

// ---------------- BUILD ----------------
type Panel = { days: string[]; target: number[][]; predict: number[][]; span: string[]; ticks: string[]; labels?: string[] };
const panels: Panel[] = [
  { days: p1Days, target: p1Target, predict: p1Predict, span: p1Span, ticks: p1Ticks },
  { days: p2Days, target: p2Target, predict: p2Predict, span: p2Span, ticks: p2Ticks },
  { days: p3Days, target: p3Target, predict: p3Predict, span: p3Span, ticks: p3Ticks },
  { days: p4Days, target: p4Target, predict: p4Predict, span: p4Span, ticks: p4Ticks },
  { days: p5Days, target: p5Target, predict: p5Predict, span: p5Span, ticks: p5Ticks },
  { days: p6Days, target: p6Target, predict: p6Predict, span: p6Span, ticks: p6Ticks },
  { days: p7Days, target: p7Target, predict: p7Predict, span: p7Span, ticks: p7Ticks },
  { days: p8Days, target: p8Target, predict: p8Predict, span: p8Span, ticks: p8Ticks },
  { days: p9Days, target: p9Target, predict: p9Predict, span: p9Span, ticks: p9Ticks },
  { days: p10Days, target: p10Target, predict: p10Predict, span: p10Span, ticks: p10Ticks },
  { days: p11Days, target: p11Target, predict: p11Predict, span: p11Span, ticks: p11Ticks },
  { days: p12Days, target: p12Target, predict: p12Predict, span: p12Span, ticks: p12Ticks },
  { days: p13Days, target: p13Target, predict: p13Predict, span: p13Span, ticks: p13Ticks },
  { days: p14Days, target: p14Target, predict: p14Predict, span: p14Span, ticks: p14Ticks },
  { days: p15Days, target: p15Target, predict: p15Predict, span: p15Span, ticks: p15Ticks },
  { days: p16Days, target: p16Target, predict: p16Predict, span: p16Span, ticks: p16Ticks, labels: p16TickLabels },
];

const HOUR = 3600000;
function parseTime(s: string): number {
  const [d, h] = s.split(" ");
  const [y, m, dd] = d.split("-").map(Number);
  return Date.UTC(y, m - 1, dd, h ? Number(h) : 0);
}
function buildSeries(days: string[], vals: number[][]): [number, number][] {
  const out: [number, number][] = [];
  days.forEach((d, i) => {
    const t0 = parseTime(d);
    (vals[i] || []).forEach((v, j) => {
      if (v != null) out.push([t0 + j * HOUR, v]);
    });
  });
  return out;
}

const S = 0.875;
const W = 2038;
const H = 4096;
const FONT = "DejaVu Sans";
const FS = 13.9 * S;
const G_LEFT = 52.3 * S;
const G_RIGHT = 2285 * S;
const G_TOP0 = 9.3 * S;
const G_STEP = 293 * S;
const G_H = 244 * S;

function buildOption() {
  const grid: any[] = [];
  const xAxis: any[] = [];
  const yAxis: any[] = [];
  const series: any[] = [];
  const legend: any[] = [];

  panels.forEach((p, i) => {
    const top = G_TOP0 + i * G_STEP;
    const tData = buildSeries(p.days, p.target);
    const pData = buildSeries(p.days, p.predict);
    const s0 = parseTime(p.span[0]);
    const s1 = parseTime(p.span[1]);
    const xpad = (s1 - s0) * 0.05;
    const xmin = s0 - xpad;
    const xmax = s1 + xpad;
    let lo = THRESHOLD, hi = THRESHOLD;
    [...tData, ...pData].forEach(([, v]) => { if (v < lo) lo = v; if (v > hi) hi = v; });
    const ypad = (hi - lo) * 0.05;
    const ymin = lo - ypad;
    const ymax = hi + ypad;

    const labelMap = new Map<number, string>();
    const tickVals: number[] = [];
    p.ticks.forEach((tk, k) => {
      const v = parseTime(tk);
      if (v >= xmin && v <= xmax) {
        tickVals.push(v);
        labelMap.set(v, p.labels ? p.labels[k] : tk);
      }
    });
    const yTicks: number[] = [];
    for (let v = 0; v <= ymax; v += 250) if (v >= ymin) yTicks.push(v);

    grid.push({
      left: G_LEFT, top, width: G_RIGHT - G_LEFT, height: G_H,
      show: true, borderColor: "#000", borderWidth: 1, backgroundColor: "transparent",
    });
    xAxis.push({
      type: "value", gridIndex: i, min: xmin, max: xmax,
      axisLine: { show: false },
      splitLine: { show: false },
      axisTick: { show: true, customValues: tickVals, length: 4.25, lineStyle: { color: "#000", width: 0.8 } },
      axisLabel: {
        show: true, customValues: tickVals, color: "#000", fontSize: FS, fontFamily: FONT, margin: 7.5,
        formatter: (v: number) => labelMap.get(v) ?? "",
      },
    });
    yAxis.push({
      type: "value", gridIndex: i, min: ymin, max: ymax,
      axisLine: { show: false },
      splitLine: { show: false },
      axisTick: { show: true, customValues: yTicks, length: 4.25, lineStyle: { color: "#000", width: 0.8 } },
      axisLabel: {
        show: true, customValues: yTicks, color: "#000", fontSize: FS, fontFamily: FONT, margin: 7.5,
        formatter: (v: number) => String(Math.round(v)),
      },
    });
    series.push({
      name: "target", type: "line", xAxisIndex: i, yAxisIndex: i, data: tData,
      symbol: "none", showSymbol: false, silent: true,
      lineStyle: { color: "#1f77b4", width: 1.8 }, itemStyle: { color: "#1f77b4" },
    });
    series.push({
      name: "predict", type: "line", xAxisIndex: i, yAxisIndex: i, data: pData,
      symbol: "none", showSymbol: false, silent: true,
      lineStyle: { color: "#ff7f0e", width: 1.8 }, itemStyle: { color: "#ff7f0e" },
    });
    series.push({
      name: "threshold", type: "line", xAxisIndex: i, yAxisIndex: i,
      data: [[s0, THRESHOLD], [s1, THRESHOLD]],
      symbol: "none", showSymbol: false, silent: true,
      lineStyle: { color: "#2ca02c", width: 2.2 }, itemStyle: { color: "#2ca02c" },
    });
    legend.push({
      data: [
        { name: "target", icon: "rect", itemStyle: { color: "#1f77b4" } },
        { name: "predict", icon: "rect", itemStyle: { color: "#ff7f0e" } },
      ],
      orient: "vertical",
      right: W - 2278 * S,
      top: 16 * S + i * G_STEP,
      itemWidth: 25, itemHeight: 2, itemGap: 4,
      padding: [4, 5, 4, 4],
      backgroundColor: "rgba(255,255,255,0.8)",
      borderColor: "#cccccc", borderWidth: 1, borderRadius: 3,
      textStyle: { fontSize: FS, fontFamily: FONT, color: "#000", padding: [0, 0, 0, 3] },
      selectedMode: false,
    });
  });

  return { animation: false, grid, xAxis, yAxis, series, legend };
}

export default function App() {
  const ref = useRef<HTMLDivElement>(null);
  useEffect(() => {
    if (!ref.current) return;
    const chart = echarts.init(ref.current, undefined, { renderer: "svg" });
    chart.setOption(buildOption() as any);
    return () => chart.dispose();
  }, []);
  return (
    <div style={{ position: "absolute", left: 0, top: 0, width: W, height: H, background: "#fff" }}>
      <div ref={ref} style={{ width: W, height: H }} />
    </div>
  );
}
